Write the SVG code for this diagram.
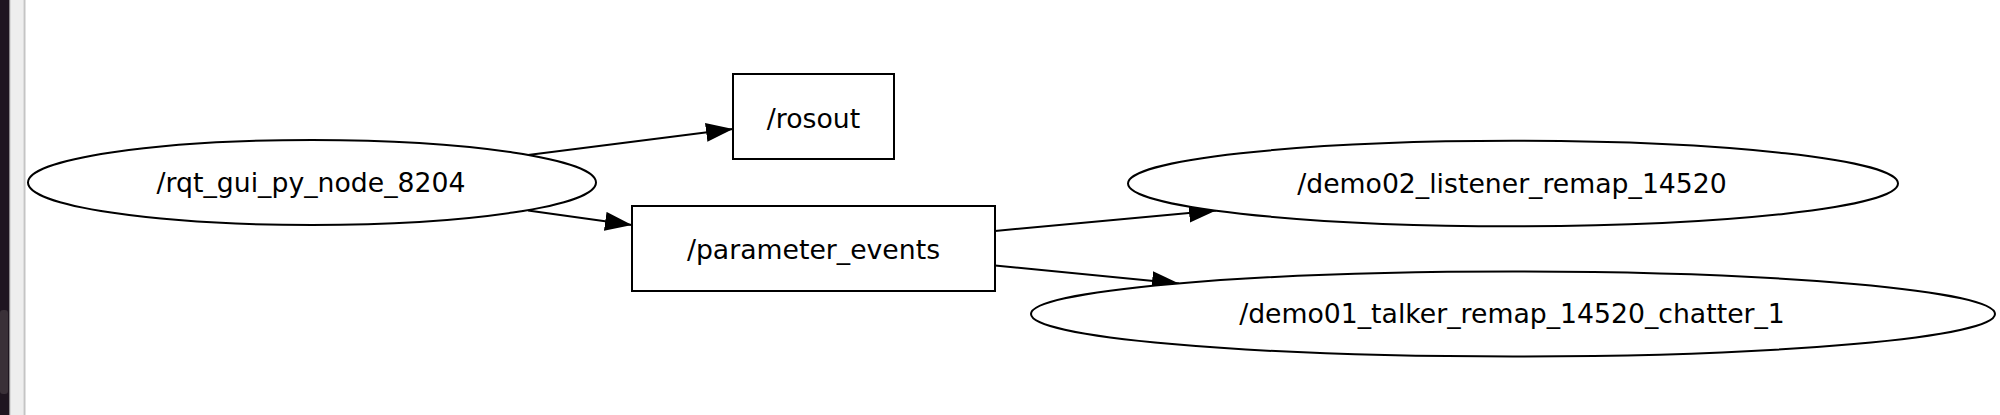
<svg xmlns="http://www.w3.org/2000/svg" width="2000" height="415" viewBox="0 0 2000 415">
  <style>
    .node-shape { fill: #ffffff; stroke: #000000; stroke-width: 2; }
    .label { font-family: "DejaVu Sans", "Liberation Sans", sans-serif; font-size: 26.7px; fill: #000000; text-anchor: middle; }
    .edge { fill: none; stroke: #000000; stroke-width: 2; }
  </style>
  <defs>
    <marker id="arrow" markerUnits="userSpaceOnUse" markerWidth="30" markerHeight="22" refX="27" refY="9.5" orient="auto">
      <path d="M0,0 L27,9.5 L0,19 Z" fill="#000000"/>
    </marker>
  </defs>
  <rect x="0" y="0" width="2000" height="415" fill="#ffffff"/>
  <g id="window-edge">
    <rect x="0" y="0" width="9.5" height="415" fill="#1f1520"/>
    <rect x="0" y="310" width="8" height="84" rx="3" fill="#3a3038"/>
    <rect x="9.5" y="0" width="1" height="415" fill="#8a8a8a"/>
    <rect x="10.5" y="0" width="13" height="415" fill="#eeeeee"/>
    <rect x="23.5" y="0" width="2" height="415" fill="#c4c4c4"/>
  </g>
  <g id="connectors">
    <line class="edge" x1="528" y1="155" x2="733" y2="129" marker-end="url(#arrow)"/>
    <line class="edge" x1="528" y1="210.5" x2="632" y2="225" marker-end="url(#arrow)"/>
    <line class="edge" x1="995" y1="231" x2="1216" y2="210.5" marker-end="url(#arrow)"/>
    <line class="edge" x1="995" y1="265.5" x2="1179" y2="283.4" marker-end="url(#arrow)"/>
  </g>
  <g id="node-rqt_gui_py_node_8204">
    <ellipse class="node-shape" cx="312" cy="182.5" rx="284" ry="42.5"/>
    <text class="label" x="311" y="192">/rqt_gui_py_node_8204</text>
  </g>
  <g id="node-rosout">
    <rect class="node-shape" x="733" y="74" width="161" height="85"/>
    <text class="label" x="813.5" y="128">/rosout</text>
  </g>
  <g id="node-parameter_events">
    <rect class="node-shape" x="632" y="206" width="363" height="85"/>
    <text class="label" x="813.5" y="258.5">/parameter_events</text>
  </g>
  <g id="node-demo02_listener_remap_14520">
    <ellipse class="node-shape" cx="1513" cy="183.5" rx="385" ry="42.7"/>
    <text class="label" x="1512" y="193">/demo02_listener_remap_14520</text>
  </g>
  <g id="node-demo01_talker_remap_14520_chatter_1">
    <ellipse class="node-shape" cx="1513" cy="314" rx="482" ry="42.5"/>
    <text class="label" x="1512" y="323.3">/demo01_talker_remap_14520_chatter_1</text>
  </g>
</svg>
